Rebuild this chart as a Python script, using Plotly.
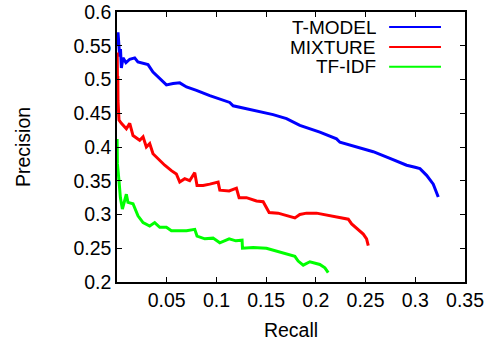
import plotly.graph_objects as go

# ---- data ----
tmodel_recall = [0.000, 0.0005, 0.001, 0.0015, 0.0027, 0.0035, 0.0044, 0.006, 0.009, 0.0128,
                 0.0178, 0.021, 0.0262, 0.0312, 0.0362, 0.043, 0.0497, 0.0564, 0.0631, 0.0699,
                 0.0799, 0.0933, 0.1067, 0.1134, 0.1168, 0.1369, 0.157, 0.1705, 0.1839, 0.204,
                 0.2208, 0.2242, 0.241, 0.2577, 0.2745, 0.2913, 0.2997, 0.3047, 0.3114, 0.3181, 0.3231]
tmodel_precision = [0.550, 0.567, 0.570, 0.560, 0.534, 0.545, 0.517, 0.532, 0.525, 0.530,
                    0.532, 0.526, 0.524, 0.522, 0.511, 0.501, 0.492, 0.494, 0.495, 0.489,
                    0.484, 0.476, 0.469, 0.466, 0.461, 0.455, 0.448, 0.442, 0.432, 0.422,
                    0.412, 0.407, 0.400, 0.393, 0.383, 0.373, 0.370, 0.368, 0.358, 0.345, 0.326]

mixture_recall = [0.000, 0.0002, 0.0005, 0.0008, 0.001, 0.002, 0.0044, 0.0094, 0.0128, 0.0161,
                  0.0228, 0.0262, 0.0295, 0.0329, 0.0362, 0.043, 0.048, 0.0547, 0.0597, 0.0631,
                  0.0681, 0.0731, 0.0782, 0.0805, 0.0866, 0.0933, 0.1017, 0.1034, 0.1128, 0.1201,
                  0.1228, 0.1302, 0.1403, 0.147, 0.153, 0.162, 0.1705, 0.1789, 0.1839, 0.1906,
                  0.2007, 0.2074, 0.2175, 0.2242, 0.2326, 0.236, 0.2426, 0.2477, 0.251, 0.2527]
mixture_precision = [0.535, 0.540, 0.490, 0.505, 0.469, 0.440, 0.435, 0.427, 0.435, 0.417,
                     0.410, 0.415, 0.400, 0.405, 0.390, 0.380, 0.373, 0.365, 0.360, 0.348,
                     0.353, 0.350, 0.362, 0.343, 0.343, 0.345, 0.348, 0.336, 0.335, 0.339,
                     0.325, 0.325, 0.320, 0.319, 0.303, 0.302, 0.298, 0.295, 0.300, 0.302,
                     0.302, 0.300, 0.297, 0.296, 0.293, 0.286, 0.278, 0.271, 0.264, 0.254]

tfidf_recall = [0.0001, 0.0004, 0.002, 0.0034, 0.0054, 0.0094, 0.011, 0.0161, 0.0211, 0.0262,
                0.0329, 0.0379, 0.043, 0.0497, 0.0547, 0.0597, 0.0699, 0.0782, 0.0805, 0.0883,
                0.0966, 0.1034, 0.1128, 0.1195, 0.1258, 0.1262, 0.1369, 0.1503, 0.157, 0.1705,
                0.1789, 0.1822, 0.1873, 0.194, 0.204, 0.2091, 0.2124]
tfidf_precision = [0.412, 0.375, 0.350, 0.325, 0.308, 0.330, 0.318, 0.316, 0.298, 0.288,
                   0.283, 0.288, 0.281, 0.281, 0.276, 0.276, 0.276, 0.278, 0.268, 0.264,
                   0.265, 0.258, 0.264, 0.261, 0.262, 0.250, 0.251, 0.250, 0.247, 0.242,
                   0.238, 0.231, 0.225, 0.230, 0.226, 0.221, 0.214]

series_names = ["T-MODEL", "MIXTURE", "TF-IDF"]
series_colors = ["#0000ff", "#ff0000", "#00ff00"]

x_tick_vals = [0.05, 0.1, 0.15, 0.2, 0.25, 0.3, 0.35]
x_tick_text = ["0.05", "0.1", "0.15", "0.2", "0.25", "0.3", "0.35"]
y_tick_vals = [0.2, 0.25, 0.3, 0.35, 0.4, 0.45, 0.5, 0.55, 0.6]
y_tick_text = ["0.2", "0.25", "0.3", "0.35", "0.4", "0.45", "0.5", "0.55", "0.6"]

FONT = "Liberation Sans, Arial, sans-serif"
FS = 19.5

fig = go.Figure()
for xs, ys, name, color in zip(
        [tmodel_recall, mixture_recall, tfidf_recall],
        [tmodel_precision, mixture_precision, tfidf_precision],
        series_names, series_colors):
    fig.add_trace(go.Scatter(x=xs, y=ys, mode="lines", name=name,
                             line=dict(color=color, width=3), showlegend=False))

# gnuplot-style legend: text right-aligned, then line sample
legend_y = [0.944, 0.870, 0.797]
for name, color, ly in zip(series_names, series_colors, legend_y):
    fig.add_annotation(x=0.746, y=ly, xref="paper", yref="paper", text=name,
                       showarrow=False, xanchor="right", yanchor="middle",
                       height=19, borderpad=0,
                       font=dict(family=FONT, size=19, color="black"))
    fig.add_shape(type="line", xref="paper", yref="paper", x0=0.782, x1=0.931,
                  y0=ly, y1=ly, line=dict(color=color, width=2))

axis_common = dict(showgrid=False, zeroline=False, showline=True, linecolor="black",
                   linewidth=1.5, mirror="ticks", ticks="inside", ticklen=5,
                   tickcolor="black", tickwidth=1, automargin=False,
                   tickfont=dict(family=FONT, size=FS, color="black"))

fig.update_layout(
    width=494, height=341,
    margin=dict(l=117, r=29, t=12, b=59),
    paper_bgcolor="white", plot_bgcolor="white",
    xaxis=dict(range=[0, 0.35], tickvals=x_tick_vals, ticktext=x_tick_text,
               title=dict(text="Recall", font=dict(family=FONT, size=FS, color="black"),
                          standoff=21),
               **axis_common),
    yaxis=dict(range=[0.2, 0.6], tickvals=y_tick_vals, ticktext=y_tick_text,
               title=dict(text="Precision", font=dict(family=FONT, size=FS, color="black"),
                          standoff=38),
               **axis_common),
)

fig.write_html("out.html")
